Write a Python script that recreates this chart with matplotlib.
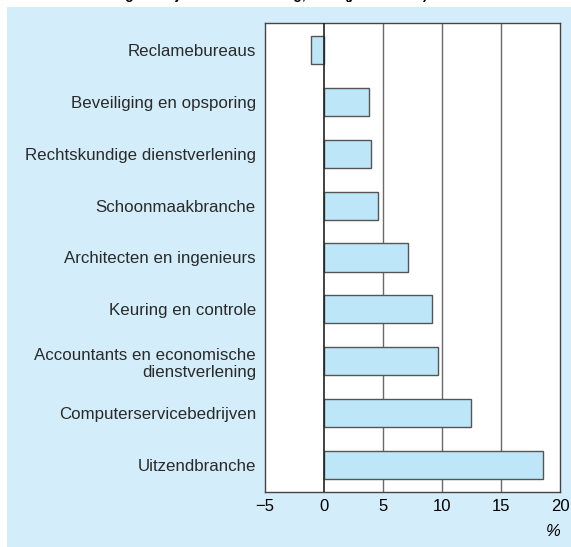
import matplotlib.pyplot as plt

# Data (jaarmutatie omzet, %)
categories = [
    'Reclamebureaus',
    'Beveiliging en opsporing',
    'Rechtskundige dienstverlening',
    'Schoonmaakbranche',
    'Architecten en ingenieurs',
    'Keuring en controle',
    'Accountants en economische\ndienstverlening',
    'Computerservicebedrijven',
    'Uitzendbranche',
]
values = [-1.1, 3.85, 4.0, 4.6, 7.1, 9.15, 9.65, 12.5, 18.6]
xticks = [-5, 0, 5, 10, 15, 20]
xtick_labels = ['\u22125', '0', '5', '10', '15', '20']

plt.rcParams['font.family'] = ['Liberation Sans', 'DejaVu Sans']

W, H = 571, 547
fig = plt.figure(figsize=(W / 100, H / 100), dpi=100, facecolor='white')

# light blue panel behind the chart
bg = fig.add_axes([7 / W, 0, 1 - 7 / W, 1 - 7 / H], zorder=0)
bg.set_facecolor('#d3eefa')
bg.set_xticks([])
bg.set_yticks([])
for s in bg.spines.values():
    s.set_visible(False)

# title, mostly cut off at the top edge (as in the source picture)
fig.text(7 / W, 1 + 1 / H, 'Omzetontwikkeling zakelijke dienstverlening, 2001 (jaarmutatie)',
         fontsize=10, fontweight='bold', va='baseline', ha='left')

left, right, top, bottom = 265, 560, 23, 492
ax = fig.add_axes([left / W, 1 - bottom / H, (right - left) / W, (bottom - top) / H], zorder=1)
ax.set_facecolor('white')

ypos = list(range(len(categories)))
ax.barh(ypos, values, height=0.54, color='#bde6f8', edgecolor='#555555', linewidth=1.0, zorder=3)

ax.set_xlim(-5, 20)
ax.set_ylim(len(categories) - 0.48, -0.52)
ax.set_xticks(xticks)
ax.set_xticklabels(xtick_labels, fontsize=12)
ax.set_yticks(ypos)
ax.set_yticklabels(categories, fontsize=12.2, color='#2a2a2a')
for lbl in ax.get_yticklabels():
    lbl.set_multialignment('right')
ax.tick_params(length=0)
ax.tick_params(axis='y', pad=6.5)
ax.tick_params(axis='x', pad=5)

for x in [5, 10, 15]:
    ax.axvline(x, color='#6a6a6a', linewidth=1.0, zorder=1)
ax.axvline(0, color='#222222', linewidth=1.2, zorder=4)

for s in ax.spines.values():
    s.set_color('#444444')
    s.set_linewidth(1.0)

fig.text(553 / W, 1 - 532 / H, '%', fontsize=12, style='italic', ha='center', va='center', zorder=2)

fig.savefig('out.png', dpi=100, facecolor=fig.get_facecolor())
